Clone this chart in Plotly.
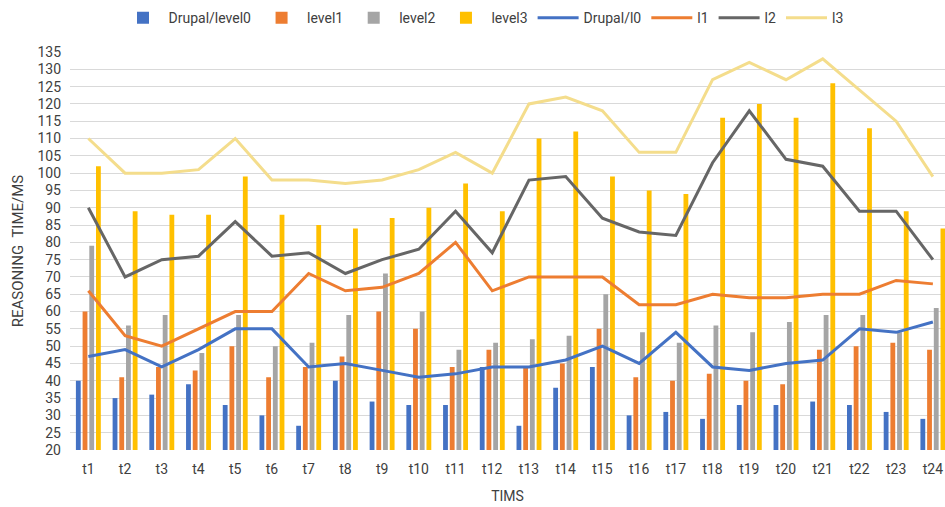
import plotly.graph_objects as go

# Time slots
categories = [f"t{i}" for i in range(1, 25)]

# Bar series (reasoning time per level, ms)
level0 = [40, 35, 36, 39, 33, 30, 27, 40, 34, 33, 33, 44, 27, 38, 44, 30, 31, 29, 33, 33, 34, 33, 31, 29]
level1 = [60, 41, 44, 43, 50, 41, 44, 47, 60, 55, 44, 49, 44, 45, 55, 41, 40, 42, 40, 39, 49, 50, 51, 49]
level2 = [79, 56, 59, 48, 59, 50, 51, 59, 71, 60, 49, 51, 52, 53, 65, 54, 51, 56, 54, 57, 59, 59, 54, 61]
level3 = [102, 89, 88, 88, 99, 88, 85, 84, 87, 90, 97, 89, 110, 112, 99, 95, 94, 116, 120, 116, 126, 113, 89, 84]

# Line series
l0 = [47, 49, 44, 49, 55, 55, 44, 45, 43, 41, 42, 44, 44, 46, 50, 45, 54, 44, 43, 45, 46, 55, 54, 57]
l1 = [66, 53, 50, 55, 60, 60, 71, 66, 67, 71, 80, 66, 70, 70, 70, 62, 62, 65, 64, 64, 65, 65, 69, 68]
l2 = [90, 70, 75, 76, 86, 76, 77, 71, 75, 78, 89, 77, 98, 99, 87, 83, 82, 103, 118, 104, 102, 89, 89, 75]
l3 = [110, 100, 100, 101, 110, 98, 98, 97, 98, 101, 106, 100, 120, 122, 118, 106, 106, 127, 132, 127, 133, 124, 115, 99]

y_ticks = list(range(20, 136, 5))

FONT = "Roboto, Liberation Sans, sans-serif"
TEXT = "#404040"

bar_series = [
    ("Drupal/level0", level0, "#4472C4"),
    ("level1", level1, "#ED7D31"),
    ("level2", level2, "#A5A5A5"),
    ("level3", level3, "#FFC000"),
]
line_series = [
    ("Drupal/l0", l0, "#4472C4"),
    ("l1", l1, "#ED7D31"),
    ("l2", l2, "#666666"),
    ("l3", l3, "#F4DD8C"),
]

fig = go.Figure()
for name, vals, color in bar_series:
    fig.add_trace(go.Bar(x=categories, y=vals, name=name, marker=dict(color=color, line=dict(width=0))))
for name, vals, color in line_series:
    fig.add_trace(go.Scatter(x=categories, y=vals, name=name, mode="lines",
                             line=dict(color=color, width=3)))

fig.update_layout(
    width=945, height=507,
    margin=dict(l=70, r=0, t=52, b=57),
    paper_bgcolor="white", plot_bgcolor="white",
    barmode="group", bargap=0.27, bargroupgap=0.28,
    font=dict(family=FONT, size=14, color=TEXT),
    legend=dict(orientation="h", x=0.472, xanchor="center", y=1.045, yanchor="bottom",
                font=dict(size=14, color=TEXT), itemwidth=41, tracegroupgap=0,
                bgcolor="rgba(0,0,0,0)"),
    showlegend=True,
)

fig.update_xaxes(
    type="category", range=[-0.5, 23.33],
    showgrid=False, showline=False, zeroline=False, ticks="",
    ticklabelstandoff=9,
    tickfont=dict(size=14, color=TEXT),
    title=dict(text="TIMS", font=dict(size=14, color=TEXT), standoff=15),
)
fig.update_yaxes(
    range=[20, 135], tickvals=y_ticks, ticktext=[str(v) for v in y_ticks],
    showgrid=True, gridcolor="#D9D9D9", gridwidth=1, zeroline=False, showline=False,
    ticks="", ticklabelstandoff=8, tickfont=dict(size=14, color=TEXT),
    title=dict(text="REASONING\u00a0 TIME/MS", font=dict(size=15, color=TEXT), standoff=10),
)

fig.write_html("out.html")
